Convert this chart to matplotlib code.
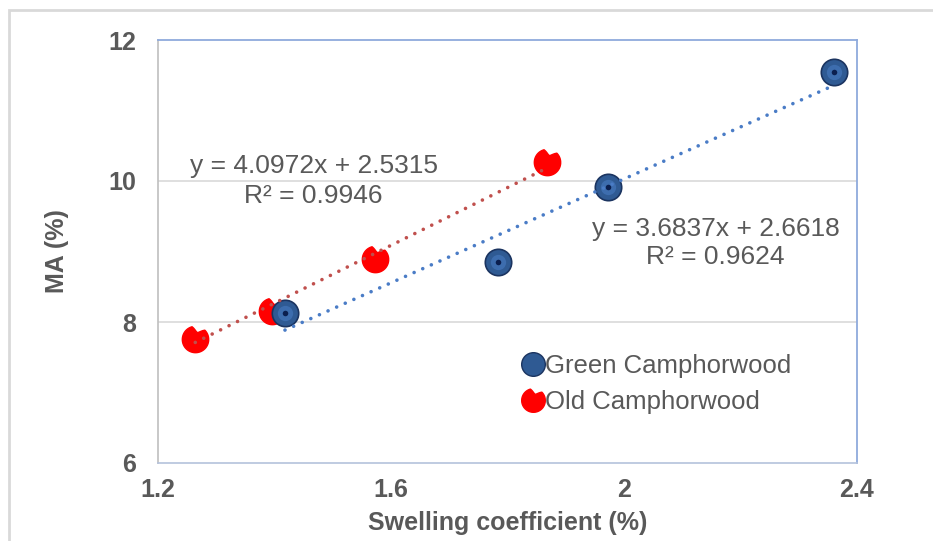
import numpy as np
import matplotlib
matplotlib.use("Agg")
from matplotlib import pyplot as plt
from matplotlib.path import Path
from matplotlib.patches import Rectangle
from matplotlib.lines import Line2D

plt.rcParams['font.family'] = ['Liberation Sans', 'DejaVu Sans']

# data
green_x = [1.418, 1.784, 1.973, 2.360]
green_y = [8.13, 8.85, 9.91, 11.55]
old_x = [1.264, 1.396, 1.573, 1.868]
old_y = [7.76, 8.16, 8.89, 10.27]

# trendline coefficients as printed on the chart
green_fit = [3.6837, 2.6618]
old_fit = [4.0972, 2.5315]
green_r2 = 0.9624
old_r2 = 0.9946

x_ticks = [1.2, 1.6, 2.0, 2.4]
x_ticklabels = ['1.2', '1.6', '2', '2.4']
y_ticks = [6, 8, 10, 12]

txt_col = '#595959'

fig = plt.figure(figsize=(9.33, 5.41), dpi=100)
# outer chart-area border (only left/top visible)
fig.patches.append(Rectangle((9/933, -0.1), 1.2, 1 - 10/541 + 0.1, transform=fig.transFigure,
                             fill=False, edgecolor='#D9D9D9', lw=2, zorder=0))

ax = fig.add_axes([158/933, 1 - 463/541, (857-158)/933, (463-40)/541])
ax.set_xlim(1.2, 2.4)
ax.set_ylim(6, 12)

for yv in [8, 10]:
    ax.axhline(yv, color='#D9D9D9', lw=1.2, zorder=1)

for s in ['top', 'right']:
    ax.spines[s].set_color('#8FAADC')
    ax.spines[s].set_linewidth(1.3)
ax.spines['left'].set_color('#BFBFBF')
ax.spines['bottom'].set_color('#B4C2DC')
ax.spines['left'].set_linewidth(1.2)
ax.spines['bottom'].set_linewidth(1.2)

ax.set_xticks(x_ticks)
ax.set_xticklabels(x_ticklabels)
ax.set_yticks(y_ticks)
ax.tick_params(length=0, labelsize=18, labelcolor=txt_col)
ax.tick_params(axis='y', pad=16)
ax.tick_params(axis='x', pad=11)
for lab in ax.get_xticklabels() + ax.get_yticklabels():
    lab.set_fontweight('bold')

ax.set_xlabel('Swelling coefficient (%)', fontsize=18, fontweight='bold', color=txt_col, labelpad=6)
ax.set_ylabel('MA (%)', fontsize=18, fontweight='bold', color=txt_col, labelpad=28)

# red circle marker with a small bite near the top
ang = np.radians(np.arange(0, 361, 5))
rad = np.ones_like(ang)
notch = (ang > np.radians(45)) & (ang < np.radians(105))
rad[notch] = 1 - 0.45 * np.sin((ang[notch] - np.radians(45)) / np.radians(60) * np.pi)
bite = Path(np.column_stack([rad * np.cos(ang), rad * np.sin(ang)]), closed=False)

# markers
ax.plot(old_x, old_y, linestyle='none', marker=bite, markersize=19, color='#FF0000',
        markeredgecolor='#FF0000', zorder=3, clip_on=False)
ax.plot(green_x, green_y, linestyle='none', marker='o', markersize=19, color='#2F5A93',
        markeredgecolor='#1B3460', markeredgewidth=1.2, zorder=3, clip_on=False)
ax.plot(green_x, green_y, linestyle='none', marker='o', markersize=11, color='#3D6DAE',
        markeredgewidth=0, zorder=3, clip_on=False)
ax.plot(green_x, green_y, linestyle='none', marker='o', markersize=4, color='#0B1F4F',
        markeredgewidth=0, zorder=3, clip_on=False)

# trendlines
gx = np.array([min(green_x), max(green_x)])
ox = np.array([min(old_x), max(old_x)])
ax.plot(gx, green_fit[0]*gx + green_fit[1], color='#4A7CC6', lw=2.6,
        linestyle=(0, (0.01, 2.6)), dash_capstyle='round', zorder=4)
ax.plot(ox, old_fit[0]*ox + old_fit[1], color='#C0504D', lw=2.6,
        linestyle=(0, (0.01, 2.6)), dash_capstyle='round', zorder=4)

# equation labels
def px(xp, yp):
    return ax.transData.inverted().transform(fig.transFigure.transform((xp/933, 1 - yp/541)))

x1, y1 = px(314, 166)
ax.text(x1, y1, 'y = 4.0972x + 2.5315', fontsize=19, color=txt_col, ha='center', va='center')
x1, y1 = px(313, 196)
ax.text(x1, y1, 'R² = %.4f' % old_r2, fontsize=19, color=txt_col, ha='center', va='center')
x1, y1 = px(716, 229)
ax.text(x1, y1, 'y = 3.6837x + 2.6618', fontsize=19, color=txt_col, ha='center', va='center')
x1, y1 = px(715, 257)
ax.text(x1, y1, 'R² = %.4f' % green_r2, fontsize=19, color=txt_col, ha='center', va='center')

# legend
handles = [
    Line2D([], [], linestyle='none', marker='o', markersize=17, color='#2F5A93',
           markeredgecolor='#1B3460'),
    Line2D([], [], linestyle='none', marker=bite, markersize=17, color='#FF0000'),
]
leg = ax.legend(handles, ['Green Camphorwood', 'Old Camphorwood'], loc='upper left',
                bbox_to_anchor=((515-158)/(857-158), (463-344)/(463-40)), frameon=False,
                fontsize=18.5, handlelength=0.6, handletextpad=0.15, labelspacing=0.45,
                borderaxespad=0)
for t in leg.get_texts():
    t.set_color(txt_col)

fig.savefig('out.png', dpi=100)
